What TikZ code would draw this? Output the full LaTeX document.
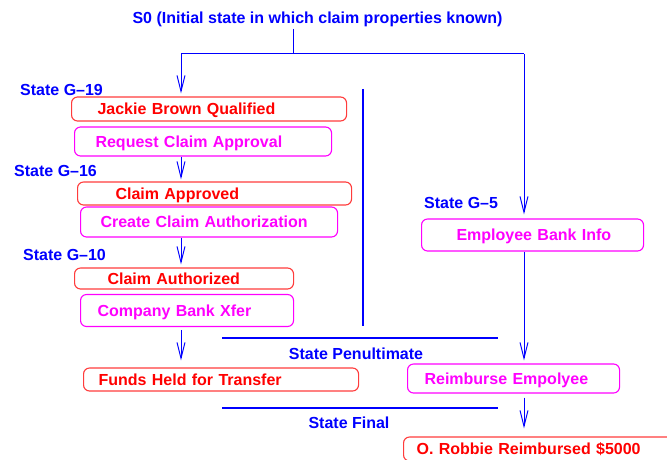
\documentclass[tikz,border=0pt]{standalone}
\usepackage{fontspec}
\setmainfont{Liberation Sans}
\usetikzlibrary{arrows.meta,calc}
\definecolor{cblue}{RGB}{0,0,255}
\definecolor{cred}{RGB}{255,0,0}
\definecolor{credline}{RGB}{255,60,60}
\definecolor{cmag}{RGB}{255,0,255}
\begin{document}
\begin{tikzpicture}[x=1pt,y=-1pt,
  txtfont/.style={font=\bfseries\fontsize{16}{19}\selectfont},
  lbl/.style={txtfont, text=cblue, inner sep=0pt, text height=11.5pt, text depth=0pt},
  box/.style={txtfont, rounded corners=6pt, line width=1.1pt, inner xsep=4pt, inner ysep=0pt,
    anchor=west, align=left, text height=11.5pt, text depth=0pt},
  rbox/.style={box, draw=credline, text=cred},
  mbox/.style={box, draw=cmag, text=cmag},
  conn/.style={draw=cblue, line width=1pt},
  arr/.style={conn, -{Straight Barb[length=16pt,width=8pt,line width=1pt]}},
  thick line/.style={draw=cblue, line width=2pt}
]
\clip (0,0) rectangle (667,460);
\fill[white] (0,0) rectangle (667,460);

% title
\node[lbl, anchor=center] (s0) at (317.5,18) {S0 (Initial state in which claim properties known)};

% state labels
\node[lbl, anchor=west] (g19) at (20,89.5) {State G--19};
\node[lbl, anchor=west] (g16) at (14,170.5) {State G--16};
\node[lbl, anchor=west] (g10) at (23,254.5) {State G--10};
\node[lbl, anchor=west] (g5) at (424,202.5) {State G--5};
\node[lbl, anchor=center] (pen) at (356,353.5) {State Penultimate};
\node[lbl, anchor=center] (fin) at (349,422.5) {State Final};

% boxes
\node[rbox, minimum width=275pt, text width=267pt, minimum height=24pt] (jbq) at (71,109) {\hspace*{22pt}Jackie Brown Qualified};
\node[mbox, minimum width=257pt, text width=249pt, minimum height=29pt] (req) at (74,141.5) {\hspace*{17pt}Request Claim Approval};
\node[rbox, minimum width=274pt, text width=266pt, minimum height=23pt] (cap) at (77,193.5) {\hspace*{34pt}Claim Approved};
\node[mbox, minimum width=257pt, text width=249pt, minimum height=30pt] (cca) at (80,222) {\hspace*{16pt}Create Claim Authorization};
\node[rbox, minimum width=219pt, text width=211pt, minimum height=21pt] (cau) at (74,278.5) {\hspace*{29pt}Claim Authorized};
\node[mbox, minimum width=213pt, text width=205pt, minimum height=32pt] (cbx) at (80,310.5) {\hspace*{13pt}Company Bank Xfer};
\node[rbox, minimum width=275pt, text width=267pt, minimum height=23pt] (fht) at (83,379.5) {\hspace*{11pt}Funds Held for Transfer};
\node[mbox, minimum width=222pt, text width=214pt, minimum height=32pt] (ebi) at (421,235) {\hspace*{31pt}Employee Bank Info};
\node[mbox, minimum width=212pt, text width=204pt, minimum height=29pt] (rem) at (407,378.5) {\hspace*{13pt}Reimburse Empolyee};
\node[rbox, minimum width=290pt, text width=282pt, minimum height=24pt] (orr) at (403,449) {\hspace*{9pt}O. Robbie Reimbursed \$5000};

% connectors
\coordinate (top) at (293.7,54);
\coordinate (L) at (181,54);
\coordinate (R) at (524,54);
\draw[conn, shorten <=5pt] (s0.south -| top) -- (top);
\draw[conn] (L) -- (R);
\draw[arr, shorten >=3pt] (L) -- (jbq.north -| L);
\draw[arr, shorten >=2pt] (req.south -| L) -- (cap.north -| L);
\draw[arr, shorten >=3pt] (cca.south -| L) -- (cau.north -| L);
\draw[arr, shorten <=3pt, shorten >=7pt] (cbx.south -| L) -- (fht.north -| L);
\draw[arr, shorten >=4pt] (R) -- (ebi.north -| R);
\draw[arr, shorten >=3pt] (ebi.south -| R) -- (rem.north -| R);
\draw[arr, shorten <=4pt, shorten >=8pt] (rem.south -| R) -- (orr.north -| R);

% state separators
\coordinate (v1) at (363,89);
\coordinate (v2) at (363,326);
\coordinate (p1) at (222,338);
\coordinate (p2) at (498,338);
\coordinate (f1) at (222,408);
\coordinate (f2) at (498,408);
\draw[thick line] (v1) -- (v2);
\draw[thick line] (p1) -- (p2);
\draw[thick line] (f1) -- (f2);
\end{tikzpicture}
\end{document}
